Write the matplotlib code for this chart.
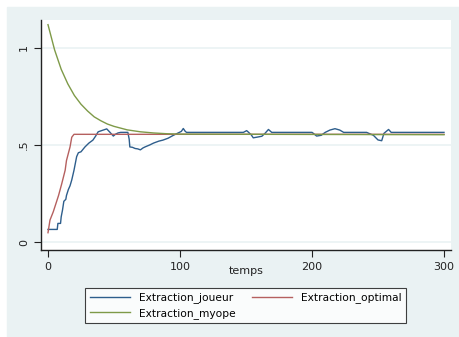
import matplotlib.pyplot as plt
from matplotlib.patches import Rectangle

# Extraction_joueur
joueur_t = [0, 7, 7.5, 9.5, 10, 11, 12, 13.5, 14, 15.4,
            16.7, 18, 19.7, 21.7, 23, 25, 28, 31, 34, 36,
            38, 41, 44.5, 47, 49.5, 51, 53, 55, 60.5, 61.5,
            62, 64, 66, 68, 70, 72, 73.5, 77, 80, 84,
            87, 91, 95, 98, 101, 102.5, 104, 105, 148, 150.5,
            152, 154, 155.5, 158, 162, 164.4, 167, 169.5, 200, 201,
            203.5, 207, 210, 213.6, 217.4, 221, 224, 241.4, 246.5, 250,
            252.8, 254.5, 258, 260, 300]
joueur_y = [.065, .065, .096, .096, .13, .165, .21, .22, .24, .27,
            .29, .32, .37, .44, .46, .465, .49, .51, .525, .545,
            .568, .575, .583, .565, .546, .555, .562, .565, .565, .53,
            .49, .488, .482, .48, .475, .485, .49, .50, .51, .52,
            .525, .535, .55, .56, .57, .585, .57, .565, .565, .574,
            .565, .552, .537, .54, .545, .56, .58, .565, .565, .56,
            .546, .55, .565, .577, .584, .577, .565, .565, .55, .526,
            .522, .56, .58, .565, .565]

# Extraction_optimal
optimal_t = [0, 1.5, 4, 8, 10.4, 13, 14, 16.7, 18, 19.7, 300]
optimal_y = [.048, .113, .156, .24, .30, .37, .42, .49, .54, .555, .555]

# Extraction_myope
myope_t = [0, 5, 10, 15, 20, 25, 30, 35, 40, 45, 50, 60, 70, 80, 90, 100, 300]
myope_y = [1.12, .99, .89, .815, .755, .71, .675, .645, .625, .608, .596,
           .578, .568, .562, .558, .556, .553]

bg = '#EAF2F3'
fig = plt.figure(figsize=(4.6, 3.37), dpi=100)
fig.patch.set_facecolor('white')
fig.patches.append(Rectangle((7 / 460, 0), 1, (337 - 7) / 337,
                             transform=fig.transFigure, color=bg, zorder=-10))

ax = fig.add_axes([41 / 460, (337 - 250) / 337, 410 / 460, 230 / 337])
ax.set_facecolor('white')

l1, = ax.plot(joueur_t, joueur_y, color='#2E5E8C', lw=1.0, zorder=3)
l2, = ax.plot(optimal_t, optimal_y, color='#B5605F', lw=1.0, zorder=3)
l3, = ax.plot(myope_t, myope_y, color='#7E9A48', lw=1.0, zorder=3)

ax.set_xlim(-5.3, 305.3)
ax.set_ylim(-0.041, 1.144)
ax.set_xticks([0, 100, 200, 300])
ax.set_yticks([0, 0.5, 1])
ax.set_yticklabels(['0', '.5', '1'], rotation=90, va='center')
ax.grid(axis='y', color=bg, lw=1.2, zorder=0)
ax.tick_params(labelsize=8, length=5, width=0.8, colors='#222222')
for s in ['top', 'right']:
    ax.spines[s].set_visible(False)
for s in ['left', 'bottom']:
    ax.spines[s].set_color('#222222')
    ax.spines[s].set_linewidth(1.0)
ax.set_xlabel('temps', fontsize=8, labelpad=-4, color='#222222')

# row-wise order: joueur, optimal / myope
leg = fig.legend([l1, l3, l2],
                 ['Extraction_joueur', 'Extraction_myope', 'Extraction_optimal'],
                 loc='upper center', bbox_to_anchor=(245.5 / 460, (337 - 288) / 337),
                 ncol=2, fontsize=7.7, frameon=True, fancybox=False,
                 handlelength=3.8, labelspacing=0.45, columnspacing=1.5,
                 borderpad=0.4, borderaxespad=0)
leg.get_frame().set_edgecolor('#111111')
leg.get_frame().set_linewidth(0.8)

fig.savefig('out.png', dpi=100, facecolor=fig.get_facecolor())
